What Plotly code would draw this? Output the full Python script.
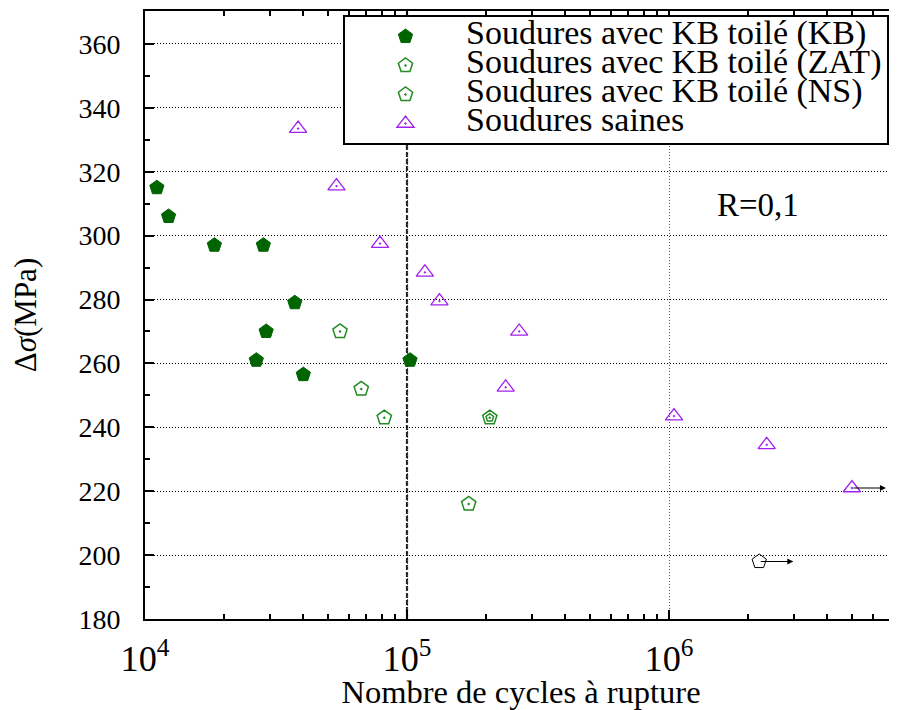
import numpy as np
import plotly.graph_objects as go

# ---- data ----
kb_cycles = [1.11e4, 1.23e4, 1.84e4, 2.83e4, 3.73e4, 2.90e4, 2.66e4, 4.02e4, 1.027e5]
kb_stress = [315, 306, 297, 297, 279, 270, 261, 256.5, 261]

zat_cycles = [5.55e4, 6.69e4, 8.19e4, 1.72e5]
zat_stress = [270, 252, 243, 216]

ns_cycles = [2.07e5]
ns_stress = [243]

saine_cycles = [3.84e4, 5.38e4, 7.89e4, 1.17e5, 1.33e5, 2.68e5, 2.38e5, 1.045e6, 2.36e6, 4.99e6]
saine_stress = [333.5, 315.5, 297.5, 288.5, 279.5, 270, 252.5, 243.5, 234.5, 221]

runout_pent_cycles = [2.21e6]
runout_pent_stress = [198]

# points that did not break (arrows)
runout_cycles = [2.21e6, 4.99e6]
runout_stress = [198, 221]

y_ticks = [180, 200, 220, 240, 260, 280, 300, 320, 340, 360]

legend_names = [
    "Soudures avec KB toilé (KB)",
    "Soudures avec KB toilé (ZAT)",
    "Soudures avec KB toilé (NS)",
    "Soudures saines",
]

SERIF = "Liberation Serif, Times New Roman, serif"
DKGREEN = "#006400"
GREEN = "#228b22"
PURPLE = "#a020f0"


def lname(s):
    return '<span style="font-size:34px">' + s + "</span>"


fig = go.Figure()

fig.add_trace(go.Scatter(
    x=kb_cycles, y=kb_stress, mode="markers", name=lname(legend_names[0]),
    marker=dict(symbol="pentagon", size=15, color=DKGREEN, line=dict(color=DKGREEN, width=1)),
))
fig.add_trace(go.Scatter(
    x=zat_cycles, y=zat_stress, mode="markers", name=lname(legend_names[1]),
    marker=dict(symbol="pentagon-open-dot", size=15, color=GREEN, line=dict(color=GREEN, width=1.5)),
))
fig.add_trace(go.Scatter(
    x=ns_cycles, y=ns_stress, mode="markers", name=lname(legend_names[2]),
    legendgroup="ns",
    marker=dict(symbol="pentagon-open-dot", size=15, color=GREEN, line=dict(color=GREEN, width=1.5)),
))
fig.add_trace(go.Scatter(
    x=ns_cycles, y=ns_stress, mode="markers", showlegend=False, legendgroup="ns",
    marker=dict(symbol="pentagon-open", size=8, color=GREEN, line=dict(color=GREEN, width=1.5)),
))
fig.add_trace(go.Scatter(
    x=saine_cycles, y=saine_stress, mode="markers", name=lname(legend_names[3]),
    marker=dict(symbol="triangle-up-open-dot", size=15, color=PURPLE, line=dict(color=PURPLE, width=1.3)),
))
fig.add_trace(go.Scatter(
    x=runout_pent_cycles, y=runout_pent_stress, mode="markers", showlegend=False,
    marker=dict(symbol="pentagon-open", size=15, color="black", line=dict(color="black", width=1)),
))

# arrows for run-outs
for c, s in zip(runout_cycles, runout_stress):
    fig.add_annotation(
        x=np.log10(c) + 0.13, y=s, ax=np.log10(c), ay=s,
        xref="x", yref="y", axref="x", ayref="y",
        showarrow=True, arrowhead=2, arrowsize=1, arrowwidth=1.2, arrowcolor="black", text="",
    )

# dashed vertical line at 1e5
fig.add_shape(type="line", xref="x", yref="paper", x0=1e5, x1=1e5, y0=0, y1=1,
              line=dict(color="#222222", width=2.2, dash="5px,2px"), layer="below")

fig.add_annotation(x=0.815, y=0.681, xref="paper", yref="paper", text="R=0,1",
                   xanchor="center", yanchor="middle",
                   showarrow=False, font=dict(family=SERIF, size=33, color="black"))

x_lo = 4.0
x_hi = 4.0 + 752 / 262.0

# the page body has an 8px default margin: figure sized/offset to compensate
fig.update_layout(
    width=889, height=702,
    margin=dict(l=137, r=0, t=3, b=91, autoexpand=False),
    paper_bgcolor="white", plot_bgcolor="white",
    font=dict(family=SERIF, color="black"),
    showlegend=True,
    legend=dict(
        x=0.2633, y=0.9934, xanchor="left", yanchor="top",
        bgcolor="white", bordercolor="black", borderwidth=2,
        font=dict(family=SERIF, size=20, color="black"),
        itemwidth=111, tracegroupgap=0,
    ),
    xaxis=dict(
        type="log", range=[x_lo, x_hi], dtick=1, exponentformat="power",
        automargin=False,
        showline=True, linecolor="black", linewidth=2, mirror="ticks",
        ticks="inside", ticklen=9, tickwidth=1.5, tickcolor="black",
        showgrid=True, gridcolor="#555555", gridwidth=1, griddash="1px,2px",
        zeroline=False,
        tickfont=dict(family=SERIF, size=29, color="black"),
        ticklabelstandoff=8,
        minor=dict(ticks="inside", ticklen=5, tickwidth=1.5, tickcolor="black", dtick="D1", showgrid=False),
        title=dict(text="Nombre de cycles à rupture", font=dict(family=SERIF, size=32.5, color="black"), standoff=12),
    ),
    yaxis=dict(
        range=[180, 370.3], tickvals=y_ticks,
        automargin=False,
        showline=True, linecolor="black", linewidth=2, mirror=False,
        ticks="inside", ticklen=9, tickwidth=1.5, tickcolor="black",
        showgrid=True, gridcolor="black", gridwidth=1, griddash="1px,2px",
        zeroline=False,
        tickfont=dict(family=SERIF, size=28, color="black"),
        ticklabelstandoff=17,
        minor=dict(ticks="inside", ticklen=5, tickwidth=1.5, tickcolor="black", dtick=10, tick0=180, showgrid=False),
        title=dict(text="Δ<i>σ</i>(MPa)", font=dict(family=SERIF, size=31, color="black"), standoff=33),
    ),
)

fig.write_html("out.html")
